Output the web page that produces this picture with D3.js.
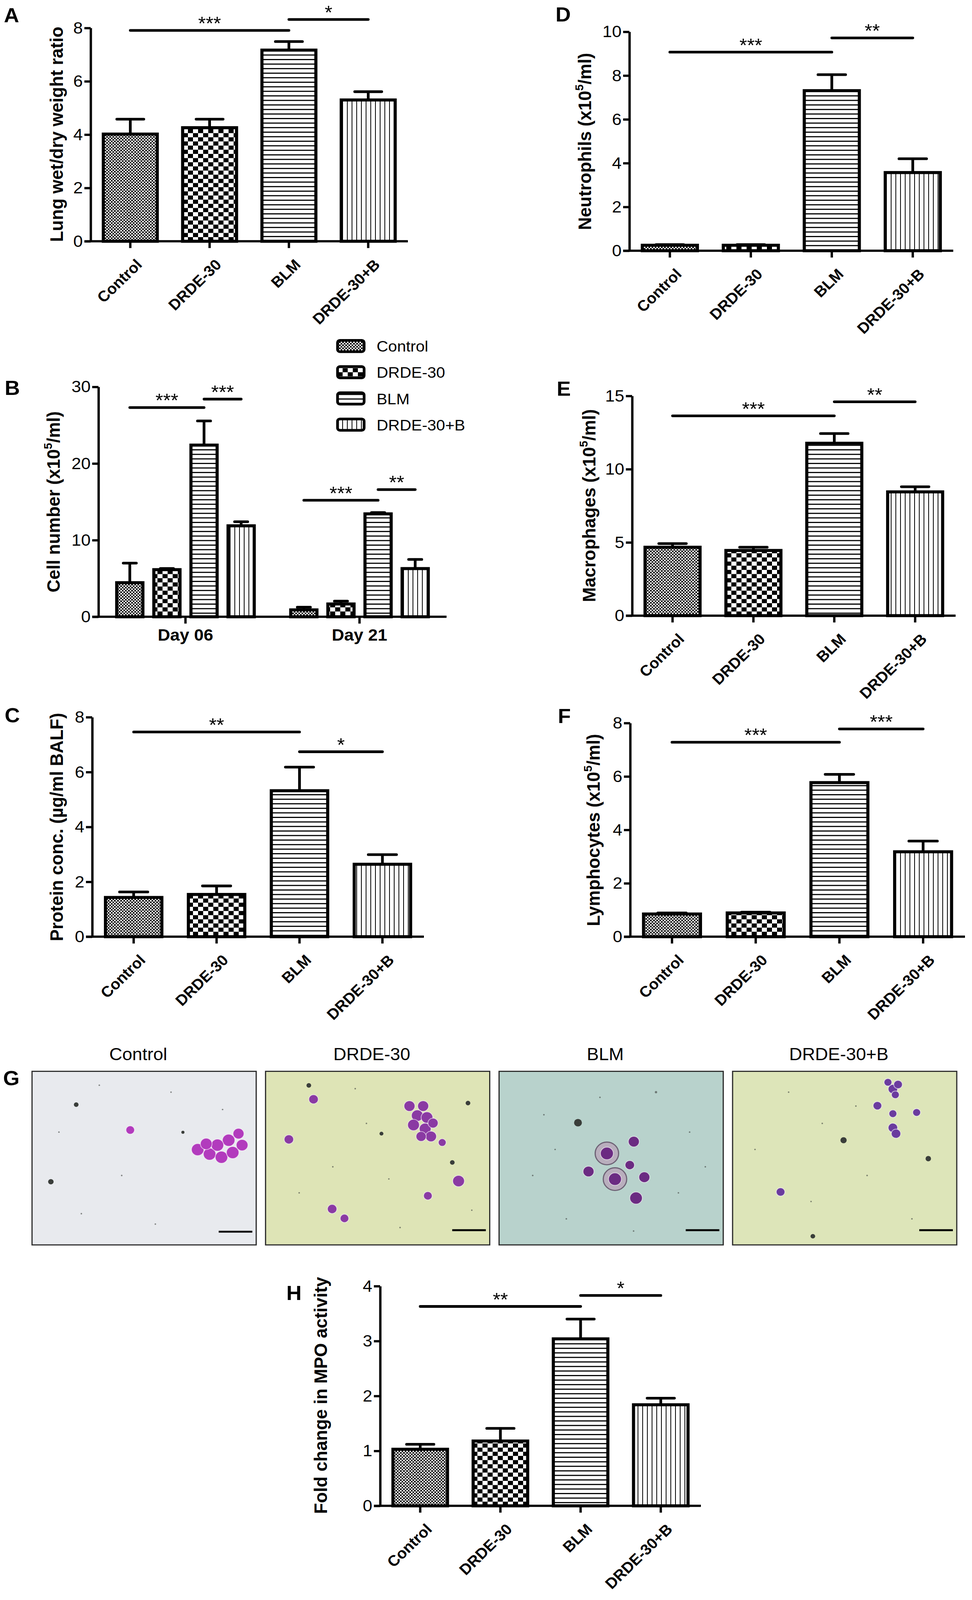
<!DOCTYPE html>
<html>
<head>
<meta charset="utf-8">
<script src="https://cdn.jsdelivr.net/npm/d3@7"></script>
<style>
  html, body { margin: 0; padding: 0; overflow: hidden; background: #fff; }
  svg { display: block; }
  svg text { font-family: "Liberation Sans", Arial, sans-serif; }
</style>
</head>
<body>
<svg id="fig"></svg>
<script>
// groups and values (mean, SEM)
var groups = ['Control', 'DRDE-30', 'BLM', 'DRDE-30+B'];
var days = ['Day 06', 'Day 21'];

var lungMean = [4.02, 4.26, 7.17, 5.30];
var lungSem = [0.56, 0.32, 0.32, 0.31];
var lungSig = [[0, 2, 7.91, '***'], [2, 3, 8.32, '*']];

var cellDay06Mean = [4.45, 6.15, 22.4, 11.87];
var cellDay06Sem = [2.55, 0.15, 3.15, 0.53];
var cellDay21Mean = [0.9, 1.67, 13.43, 6.29];
var cellDay21Sem = [0.35, 0.37, 0.17, 1.19];
var cellDay06Sig = [[0, 2, 27.3, '***'], [2, 3, 28.4, '***']];
var cellDay21Sig = [[0, 2, 15.2, '***'], [2, 3, 16.6, '**']];

var proteinMean = [1.43, 1.54, 5.32, 2.64];
var proteinSem = [0.20, 0.31, 0.86, 0.35];
var proteinSig = [[0, 2, 7.46, '**'], [2, 3, 6.74, '*']];

var neutroMean = [0.25, 0.25, 7.31, 3.57];
var neutroSem = [0.03, 0.03, 0.73, 0.63];
var neutroSig = [[0, 2, 9.07, '***'], [2, 3, 9.72, '**']];

var macroMean = [4.67, 4.45, 11.77, 8.45];
var macroSem = [0.25, 0.22, 0.66, 0.35];
var macroSig = [[0, 2, 13.64, '***'], [2, 3, 14.6, '**']];

var lymphoMean = [0.85, 0.89, 5.77, 3.18];
var lymphoSem = [0.04, 0.03, 0.31, 0.40];
var lymphoSig = [[0, 2, 7.28, '***'], [2, 3, 7.78, '***']];

var mpoMean = [1.03, 1.18, 3.04, 1.84];
var mpoSem = [0.09, 0.23, 0.36, 0.12];
var mpoSig = [[0, 2, 3.63, '**'], [2, 3, 3.83, '*']];

// G: stained cells in each photo, [relX, relY, radius, kind] (0 cell, 1 debris, 2 large cell)
var photoCells = [
  [[0.438, 0.338, 11, 0], [0.739, 0.451, 16, 0], [0.792, 0.477, 16, 0], [0.845, 0.495, 16, 0],
   [0.895, 0.468, 16, 0], [0.937, 0.425, 15, 0], [0.921, 0.359, 14, 0], [0.877, 0.397, 16, 0],
   [0.827, 0.425, 16, 0], [0.777, 0.418, 15, 0], [0.197, 0.192, 6, 1], [0.084, 0.636, 7, 1],
   [0.673, 0.351, 4, 1], [0.30, 0.08, 2, 1], [0.62, 0.12, 2, 1], [0.85, 0.22, 2, 1],
   [0.40, 0.60, 2, 1], [0.22, 0.82, 2, 1], [0.55, 0.88, 2, 1], [0.12, 0.35, 2, 1]],
  [[0.642, 0.200, 14, 0], [0.703, 0.200, 14, 0], [0.677, 0.255, 15, 0], [0.720, 0.266, 15, 0],
   [0.660, 0.309, 15, 0], [0.712, 0.331, 15, 0], [0.747, 0.298, 13, 0], [0.738, 0.375, 14, 0],
   [0.694, 0.375, 13, 0], [0.104, 0.392, 12, 0], [0.788, 0.410, 10, 0], [0.861, 0.632, 15, 0],
   [0.724, 0.717, 11, 0], [0.297, 0.793, 12, 0], [0.352, 0.847, 11, 0], [0.214, 0.161, 12, 0],
   [0.193, 0.081, 6, 1], [0.903, 0.183, 6, 1], [0.517, 0.359, 5, 1], [0.833, 0.525, 6, 1],
   [0.40, 0.10, 2, 1], [0.30, 0.55, 2, 1], [0.55, 0.62, 2, 1], [0.15, 0.70, 2, 1],
   [0.60, 0.90, 2, 1], [0.92, 0.80, 2, 1], [0.45, 0.30, 2, 1]],
  [[0.601, 0.405, 14, 0], [0.481, 0.473, 30, 2], [0.583, 0.540, 12, 0], [0.399, 0.577, 14, 0],
   [0.517, 0.621, 30, 2], [0.648, 0.610, 14, 0], [0.611, 0.730, 16, 0], [0.352, 0.296, 10, 1],
   [0.70, 0.12, 3, 1], [0.20, 0.25, 2, 1], [0.85, 0.35, 2, 1], [0.15, 0.60, 2, 1],
   [0.80, 0.70, 2, 1], [0.30, 0.85, 2, 1], [0.60, 0.92, 2, 1], [0.92, 0.55, 2, 1],
   [0.45, 0.15, 2, 1], [0.25, 0.45, 2, 1]],
  [[0.715, 0.102, 12, 0], [0.738, 0.076, 11, 0], [0.693, 0.063, 10, 0], [0.726, 0.135, 10, 0],
   [0.646, 0.198, 11, 0], [0.715, 0.244, 10, 0], [0.821, 0.237, 10, 0], [0.715, 0.325, 12, 0],
   [0.729, 0.359, 12, 0], [0.214, 0.695, 11, 0], [0.495, 0.397, 8, 1], [0.873, 0.503, 7, 1],
   [0.358, 0.950, 6, 1], [0.25, 0.12, 2, 1], [0.40, 0.30, 2, 1], [0.10, 0.45, 2, 1],
   [0.60, 0.60, 2, 1], [0.35, 0.75, 2, 1], [0.80, 0.85, 2, 1], [0.55, 0.20, 2, 1]]
];

var FONT = '"Liberation Sans", Arial, sans-serif';
var W = 2488, H = 4231;
// fit the whole figure inside the window that is photographed
var svg = d3.select('#fig')
  .attr('viewBox', '0 0 ' + W + ' ' + H)
  .attr('preserveAspectRatio', 'none')
  .attr('width', window.innerWidth || W)
  .attr('height', window.innerHeight || H);
var defs = svg.append('defs');

// fill patterns, one per group
function makePatterns() {
  var p0 = defs.append('pattern').attr('id', 'pat0').attr('patternUnits', 'userSpaceOnUse')
    .attr('width', 8).attr('height', 8);
  p0.append('rect').attr('width', 8).attr('height', 8).attr('fill', '#fff');
  p0.append('rect').attr('width', 4).attr('height', 4).attr('fill', '#000');
  p0.append('rect').attr('x', 4).attr('y', 4).attr('width', 4).attr('height', 4).attr('fill', '#000');

  var p1 = defs.append('pattern').attr('id', 'pat1').attr('patternUnits', 'userSpaceOnUse')
    .attr('width', 26).attr('height', 22);
  p1.append('rect').attr('width', 26).attr('height', 22).attr('fill', '#fff');
  p1.append('rect').attr('width', 13).attr('height', 11).attr('fill', '#000');
  p1.append('rect').attr('x', 13).attr('y', 11).attr('width', 13).attr('height', 11).attr('fill', '#000');

  var p2 = defs.append('pattern').attr('id', 'pat2').attr('patternUnits', 'userSpaceOnUse')
    .attr('width', 12).attr('height', 12);
  p2.append('rect').attr('width', 12).attr('height', 12).attr('fill', '#fff');
  p2.append('rect').attr('width', 12).attr('height', 3).attr('fill', '#000');

  var p3 = defs.append('pattern').attr('id', 'pat3').attr('patternUnits', 'userSpaceOnUse')
    .attr('width', 12).attr('height', 12);
  p3.append('rect').attr('width', 12).attr('height', 12).attr('fill', '#fff');
  p3.append('rect').attr('width', 2).attr('height', 12).attr('fill', '#000');
}
makePatterns();

function panelLabel(txt, x, y) {
  svg.append('text').attr('x', x).attr('y', y).text(txt)
    .attr('font-size', 54).attr('font-weight', 'bold');
}

function yTitle(parts, x, y) {
  var t = svg.append('text')
    .attr('transform', 'translate(' + x + ',' + y + ') rotate(-90)')
    .attr('text-anchor', 'middle').attr('font-size', 47).attr('font-weight', 'bold');
  t.append('tspan').text(parts[0]);
  if (parts.length > 1) {
    t.append('tspan').attr('font-size', 30).attr('dy', -20).text(parts[1]);
    t.append('tspan').attr('dy', 20).text(parts[2]);
  }
}

function yAxis(y, ax, ticks) {
  var ya = svg.append('g').attr('transform', 'translate(' + ax + ',0)')
    .call(d3.axisLeft(y).tickValues(ticks).tickFormat(d3.format('d'))
      .tickSize(16).tickSizeOuter(0).tickPadding(4));
  ya.attr('font-size', 44).attr('font-family', FONT);
  ya.selectAll('line, path').attr('stroke', '#000').attr('stroke-width', 6);
}

function xAxis(x, o) {
  var xa = svg.append('g').attr('transform', 'translate(0,' + o.y0 + ')')
    .call(d3.axisBottom(x).tickSize(18).tickSizeOuter(0).tickFormat(''));
  xa.select('.domain').attr('d', 'M' + (o.ax - 16) + ',0H' + o.xEnd);
  xa.selectAll('line, path').attr('stroke', '#000').attr('stroke-width', 6);
}

function drawBars(cx, bw, y, means, sems) {
  var g = svg.append('g');
  g.selectAll('rect').data(means).join('rect')
    .attr('x', function (d, i) { return cx(i) - bw / 2; })
    .attr('y', function (d) { return y(d); })
    .attr('width', bw)
    .attr('height', function (d) { return y(0) - y(d); })
    .attr('fill', function (d, i) { return 'url(#pat' + i + ')'; })
    .attr('stroke', '#000').attr('stroke-width', 8);
  // error bars (upper only)
  g.selectAll('.stem').data(means).join('line').attr('class', 'stem')
    .attr('x1', function (d, i) { return cx(i); }).attr('x2', function (d, i) { return cx(i); })
    .attr('y1', function (d) { return y(d); })
    .attr('y2', function (d, i) { return y(d + sems[i]); })
    .attr('stroke', '#000').attr('stroke-width', 7);
  g.selectAll('.cap').data(means).join('line').attr('class', 'cap')
    .attr('x1', function (d, i) { return cx(i) - bw / 4; })
    .attr('x2', function (d, i) { return cx(i) + bw / 4; })
    .attr('y1', function (d, i) { return y(d + sems[i]); })
    .attr('y2', function (d, i) { return y(d + sems[i]); })
    .attr('stroke', '#000').attr('stroke-width', 7).attr('stroke-linecap', 'round');
}

function drawSig(cx, y, sig) {
  var g = svg.append('g');
  g.selectAll('line').data(sig).join('line')
    .attr('x1', function (d) { return cx(d[0]); }).attr('x2', function (d) { return cx(d[1]); })
    .attr('y1', function (d) { return y(d[2]); }).attr('y2', function (d) { return y(d[2]); })
    .attr('stroke', '#000').attr('stroke-width', 7).attr('stroke-linecap', 'round');
  g.selectAll('text').data(sig).join('text')
    .attr('x', function (d) { return (cx(d[0]) + cx(d[1])) / 2; })
    .attr('y', function (d) { return y(d[2]) - 2; })
    .attr('text-anchor', 'middle').attr('font-size', 50)
    .text(function (d) { return d[3]; });
}

function barPanel(o) {
  var x = d3.scaleBand().domain(groups).range([o.ax, o.xEnd]).paddingInner(0.32).paddingOuter(0.16);
  var y = d3.scaleLinear().domain([0, o.max]).range([o.y0, o.yTop]);
  var cx = function (i) { return x(groups[i]) + x.bandwidth() / 2; };

  drawBars(cx, x.bandwidth(), y, o.mean, o.sem);
  drawSig(cx, y, o.sig);
  yAxis(y, o.ax, o.ticks);
  xAxis(x, o);

  svg.append('g').selectAll('text').data(groups).join('text')
    .attr('transform', function (d, i) {
      return 'translate(' + (cx(i) + 12) + ',' + (o.y0 + 44) + ') rotate(-45)';
    })
    .attr('text-anchor', 'end').attr('dy', '0.72em')
    .attr('font-size', 40).attr('font-weight', 'bold')
    .text(function (d) { return d; });

  yTitle(o.title, o.titleX, o.titleY);
  panelLabel(o.label, o.lx, o.ly);
}

// A
barPanel({ ax: 232, xEnd: 1044, y0: 638, yTop: 74, max: 8, ticks: [0, 2, 4, 6, 8],
  mean: lungMean, sem: lungSem, sig: lungSig,
  title: ['Lung wet/dry weight ratio'], titleX: 161, titleY: 355, label: 'A', lx: 10, ly: 59 });
// D
barPanel({ ax: 1611, xEnd: 2440, y0: 663, yTop: 84, max: 10, ticks: [0, 2, 4, 6, 8, 10],
  mean: neutroMean, sem: neutroSem, sig: neutroSig,
  title: ['Neutrophils (x10', '5', '/ml)'], titleX: 1513, titleY: 374, label: 'D', lx: 1422, ly: 57 });
// E
barPanel({ ax: 1618, xEnd: 2446, y0: 1628, yTop: 1047, max: 15, ticks: [0, 5, 10, 15],
  mean: macroMean, sem: macroSem, sig: macroSig,
  title: ['Macrophages (x10', '5', '/ml)'], titleX: 1524, titleY: 1337, label: 'E', lx: 1425, ly: 1046 });
// C
barPanel({ ax: 236, xEnd: 1085, y0: 2477, yTop: 1896.5, max: 8, ticks: [0, 2, 4, 6, 8],
  mean: proteinMean, sem: proteinSem, sig: proteinSig,
  title: ['Protein conc. (\u00b5g/ml BALF)'], titleX: 161, titleY: 2187, label: 'C', lx: 12, ly: 1910 });
// F
barPanel({ ax: 1613, xEnd: 2470, y0: 2477, yTop: 1912, max: 8, ticks: [0, 2, 4, 6, 8],
  mean: lymphoMean, sem: lymphoSem, sig: lymphoSig,
  title: ['Lymphocytes (x10', '5', '/ml)'], titleX: 1535, titleY: 2195, label: 'F', lx: 1428, ly: 1912 });
// H
barPanel({ ax: 973, xEnd: 1794, y0: 3982, yTop: 3401, max: 4, ticks: [0, 1, 2, 3, 4],
  mean: mpoMean, sem: mpoSem, sig: mpoSig,
  title: ['Fold change in MPO activity'], titleX: 837, titleY: 3690, label: 'H', lx: 733, ly: 3438 });

// B: grouped bars by day
(function () {
  var o = { ax: 252, xEnd: 1143, y0: 1631, yTop: 1023 };
  var x0 = d3.scaleBand().domain(days).range([o.ax, o.xEnd]).paddingInner(0.147).paddingOuter(0.0735);
  var x1 = d3.scaleBand().domain(groups).range([0, x0.bandwidth()]).paddingInner(0.295).paddingOuter(0.1475);
  var y = d3.scaleLinear().domain([0, 30]).range([o.y0, o.yTop]);
  var sets = [[cellDay06Mean, cellDay06Sem, cellDay06Sig], [cellDay21Mean, cellDay21Sem, cellDay21Sig]];
  sets.forEach(function (s, k) {
    var cx = function (i) { return x0(days[k]) + x1(groups[i]) + x1.bandwidth() / 2; };
    drawBars(cx, x1.bandwidth(), y, s[0], s[1]);
    drawSig(cx, y, s[2]);
  });
  yAxis(y, o.ax, [0, 10, 20, 30]);
  xAxis(x0, o);
  svg.append('g').selectAll('text').data(days).join('text')
    .attr('x', function (d) { return x0(d) + x0.bandwidth() / 2; })
    .attr('y', 1694).attr('text-anchor', 'middle')
    .attr('font-size', 44).attr('font-weight', 'bold')
    .text(function (d) { return d; });
  yTitle(['Cell number (x10', '5', '/ml)'], 153, 1327);
  panelLabel('B', 12, 1044);

  // legend
  var leg = svg.append('g').selectAll('g').data(groups).join('g')
    .attr('transform', function (d, i) { return 'translate(864,' + (915 + i * 69.3) + ')'; });
  leg.append('rect').attr('x', 0).attr('y', -15).attr('width', 68).attr('height', 30)
    .attr('rx', 6).attr('fill', function (d, i) { return 'url(#pat' + i + ')'; })
    .attr('stroke', '#000').attr('stroke-width', 7);
  leg.append('text').attr('x', 100).attr('y', 15).attr('font-size', 41)
    .text(function (d) { return d; });
})();

// G: cytospin photos
(function () {
  var bg = ['#e8eaee', '#dee4b6', '#b8d2cc', '#dde5b9'];
  var ink = ['#b23bbd', '#8a3aa3', '#6b2b82', '#6a3b9e'];
  var top = 2833, h = 459;
  var px = d3.scaleBand().domain(groups).range([82, 2449]).paddingInner(0.04);
  var w = px.bandwidth();

  var ph = svg.append('g').selectAll('g').data(groups).join('g')
    .attr('transform', function (d) { return 'translate(' + px(d) + ',' + top + ')'; });
  ph.append('rect').attr('width', w).attr('height', h)
    .attr('fill', function (d, i) { return bg[i]; })
    .attr('stroke', '#2a2a2a').attr('stroke-width', 3);
  ph.each(function (d, i) {
    var cells = d3.select(this).selectAll('g.cell').data(photoCells[i]).join('g').attr('class', 'cell')
      .attr('transform', function (c) { return 'translate(' + c[0] * w + ',' + c[1] * h + ')'; });
    cells.filter(function (c) { return c[3] === 2; }).append('circle')
      .attr('r', function (c) { return c[2]; })
      .attr('fill', '#b9aebd').attr('stroke', '#6e6275').attr('stroke-width', 3);
    cells.append('circle')
      .attr('r', function (c) { return c[3] === 2 ? c[2] * 0.55 : c[2]; })
      .attr('fill', function (c) { return c[3] === 1 ? '#3a3e3a' : ink[i]; })
      .attr('fill-opacity', function (c) { return c[3] === 1 && c[2] < 4 ? 0.6 : 1; })
      .attr('stroke', function (c) { return c[3] === 1 ? 'none' : '#ffffff'; })
      .attr('stroke-opacity', 0.6).attr('stroke-width', 2);
  });
  // scale bars
  ph.append('line').attr('x1', w - 96).attr('x2', w - 10)
    .attr('y1', function (d, i) { return i === 0 ? 424 : 420; })
    .attr('y2', function (d, i) { return i === 0 ? 424 : 420; })
    .attr('stroke', '#000').attr('stroke-width', 5);
  // titles
  svg.append('g').selectAll('text').data(groups).join('text')
    .attr('x', function (d) { return px(d) + w / 2 - 15; })
    .attr('y', 2803).attr('text-anchor', 'middle').attr('font-size', 46)
    .text(function (d) { return d; });
  panelLabel('G', 8, 2870);
})();
</script>
</body>
</html>
